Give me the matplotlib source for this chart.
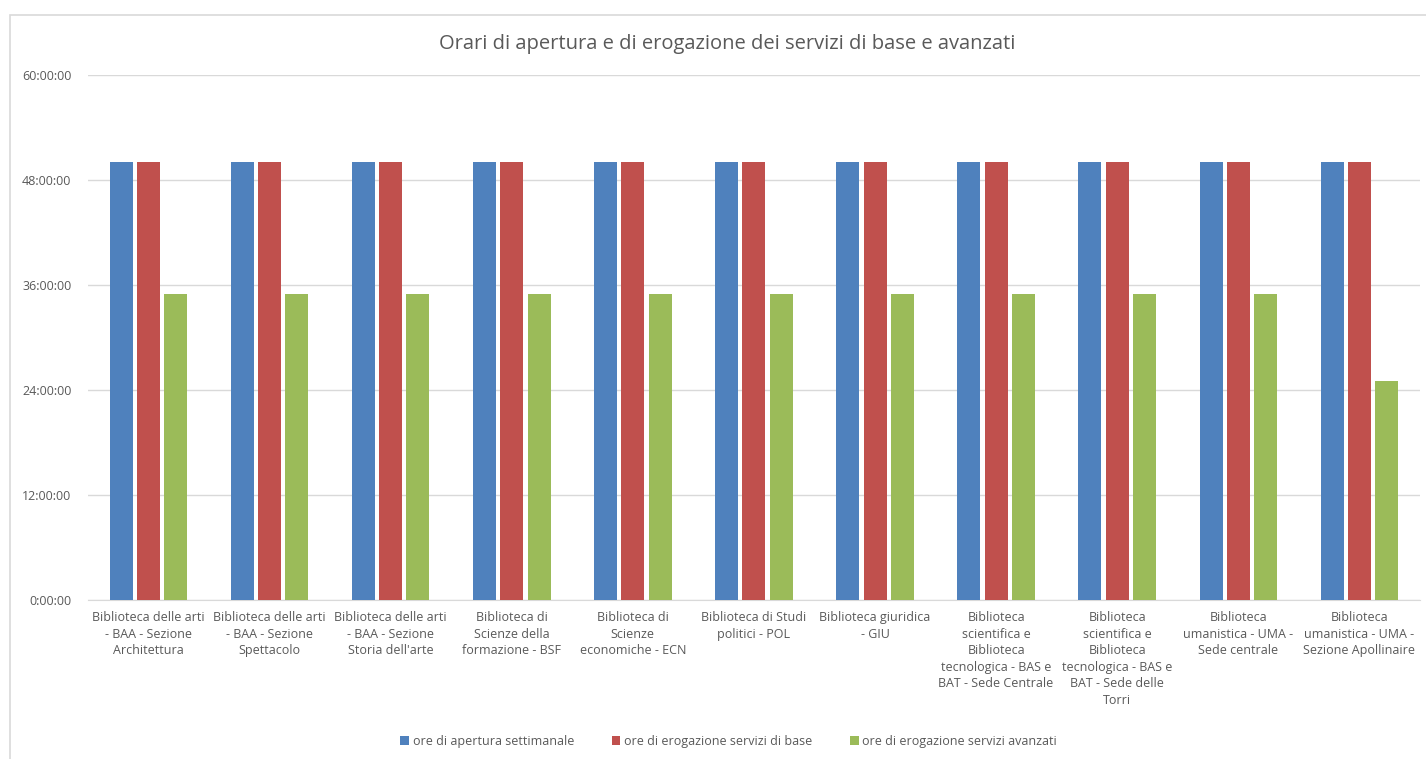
import numpy as np
import matplotlib
matplotlib.use("Agg")
import matplotlib.pyplot as plt
from matplotlib.ticker import FuncFormatter, MultipleLocator
from matplotlib.patches import Rectangle

plt.rcParams["font.family"] = ["Open Sans", "DejaVu Sans"]

# Biblioteche (etichette come a capo nel grafico originale)
categories = [
    "Biblioteca delle arti\n- BAA - Sezione\nArchitettura",
    "Biblioteca delle arti\n- BAA - Sezione\nSpettacolo",
    "Biblioteca delle arti\n- BAA - Sezione\nStoria dell'arte",
    "Biblioteca di\nScienze della\nformazione - BSF",
    "Biblioteca di\nScienze\neconomiche - ECN",
    "Biblioteca di Studi\npolitici - POL",
    "Biblioteca giuridica\n- GIU",
    "Biblioteca\nscientifica e\nBiblioteca\ntecnologica - BAS e\nBAT - Sede Centrale",
    "Biblioteca\nscientifica e\nBiblioteca\ntecnologica - BAS e\nBAT - Sede delle\nTorri",
    "Biblioteca\numanistica - UMA -\nSede centrale",
    "Biblioteca\numanistica - UMA -\nSezione Apollinaire",
]

# ore settimanali
ore_apertura = [50, 50, 50, 50, 50, 50, 50, 50, 50, 50, 50]
ore_base = [50, 50, 50, 50, 50, 50, 50, 50, 50, 50, 50]
ore_avanzati = [35, 35, 35, 35, 35, 35, 35, 35, 35, 35, 25]

series_names = [
    "ore di apertura settimanale",
    "ore di erogazione servizi di base",
    "ore di erogazione servizi avanzati",
]
colors = ["#4F81BD", "#C0504D", "#9BBB59"]

fig = plt.figure(figsize=(14.26, 7.59), dpi=100)
ax = fig.add_axes([0.0617, 0.2095, 0.934, 0.692])

# bordo del grafico
fig.patches.append(Rectangle((10 / 1426, -0.01), 1.0, 1 - (-0.01) - 15 / 759,
                             transform=fig.transFigure, fill=False,
                             edgecolor="#D9D9D9", linewidth=1.2))

x = np.arange(len(categories))
w = 0.19
step = 0.225
for i, (vals, c, name) in enumerate(zip([ore_apertura, ore_base, ore_avanzati], colors, series_names)):
    ax.bar(x + (i - 1) * step, vals, width=w, color=c, label=name, zorder=3)

ax.set_xlim(-0.5, len(categories) - 0.5)
ax.set_ylim(0, 60)
ax.yaxis.set_major_locator(MultipleLocator(12))
ax.yaxis.set_major_formatter(FuncFormatter(lambda v, p: f"{int(v)}:00:00"))
ax.grid(axis="y", color="#D9D9D9", linewidth=1, zorder=0)

for s in ["top", "right", "left"]:
    ax.spines[s].set_visible(False)
ax.spines["bottom"].set_color("#D9D9D9")

ax.set_xticks(x)
ax.set_xticklabels(categories, fontsize=9, color="#595959", linespacing=1.35)
ax.tick_params(axis="x", length=0, pad=8)
ax.tick_params(axis="y", length=0, labelsize=9, labelcolor="#595959", pad=12)

fig.text(0.51, 0.942, "Orari di apertura e di erogazione dei servizi di base e avanzati",
         ha="center", va="center", fontsize=14.5, color="#595959")

fig.legend(loc="center", bbox_to_anchor=(0.511, 0.023), ncol=3, frameon=False,
           fontsize=9, labelcolor="#595959", handlelength=0.7, handleheight=0.7,
           handletextpad=0.3, columnspacing=3.0)

fig.savefig("out.png", dpi=100, facecolor="white")
